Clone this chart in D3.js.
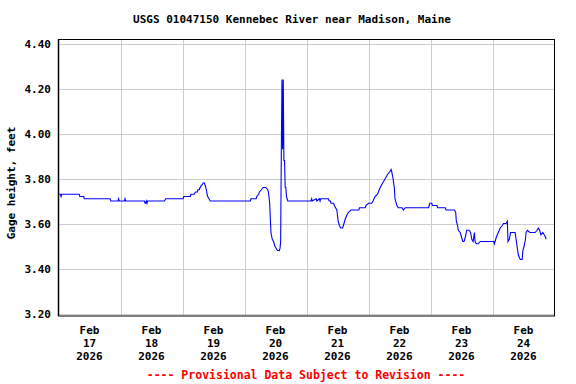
<!DOCTYPE html>
<html>
<head>
<meta charset="utf-8">
<script src="https://cdn.jsdelivr.net/npm/d3@7/dist/d3.min.js"></script>
<style>
  html, body { margin: 0; padding: 0; background: #fff; }
  svg { display: block; }
  text { font-family: "DejaVu Sans Mono", "Liberation Mono", monospace; font-weight: bold; }
</style>
</head>
<body>
<svg id="chart" width="576" height="384"></svg>
<script>
// ---------------- data ----------------
const chartTitle = "USGS 01047150 Kennebec River near Madison, Maine";
const yAxisTitle = "Gage height, feet";
const footerText = "---- Provisional Data Subject to Revision ----";
const yTicks = [3.20, 3.40, 3.60, 3.80, 4.00, 4.20, 4.40];
const dayStart = "2026-02-17 00:00";
const dayEnd = "2026-02-25 00:00";

const times = [
  "2026-02-17 00:15","2026-02-17 00:45","2026-02-17 01:00","2026-02-17 01:15","2026-02-17 08:00","2026-02-17 08:15",
  "2026-02-17 09:45","2026-02-17 10:00","2026-02-17 20:00","2026-02-17 20:15","2026-02-17 23:00","2026-02-17 23:15",
  "2026-02-17 23:30",
  "2026-02-18 01:30","2026-02-18 01:45","2026-02-18 02:00","2026-02-18 09:15","2026-02-18 09:30","2026-02-18 09:45",
  "2026-02-18 10:00","2026-02-18 10:15","2026-02-18 10:30","2026-02-18 17:00","2026-02-18 17:30",
  "2026-02-19 00:15","2026-02-19 00:30","2026-02-19 03:00","2026-02-19 03:15","2026-02-19 04:30","2026-02-19 05:00",
  "2026-02-19 05:45","2026-02-19 06:00","2026-02-19 06:30","2026-02-19 06:45","2026-02-19 07:00","2026-02-19 07:15",
  "2026-02-19 07:30","2026-02-19 08:00","2026-02-19 08:30","2026-02-19 08:45","2026-02-19 09:15","2026-02-19 09:30",
  "2026-02-19 09:45","2026-02-19 10:15","2026-02-19 10:45",
  "2026-02-20 02:15","2026-02-20 02:30","2026-02-20 04:30","2026-02-20 04:45","2026-02-20 05:30","2026-02-20 05:45",
  "2026-02-20 06:30","2026-02-20 07:15","2026-02-20 08:15","2026-02-20 09:00","2026-02-20 09:15","2026-02-20 09:45",
  "2026-02-20 10:00","2026-02-20 10:15","2026-02-20 10:45","2026-02-20 11:15","2026-02-20 11:45","2026-02-20 12:15",
  "2026-02-20 12:45","2026-02-20 13:30","2026-02-20 13:45","2026-02-20 14:00","2026-02-20 14:15","2026-02-20 14:30",
  "2026-02-20 14:45","2026-02-20 15:00","2026-02-20 15:15","2026-02-20 15:30","2026-02-20 15:45","2026-02-20 16:00",
  "2026-02-20 16:15","2026-02-20 16:30","2026-02-20 16:45",
  "2026-02-21 01:45","2026-02-21 02:00","2026-02-21 02:15","2026-02-21 03:45","2026-02-21 04:00","2026-02-21 05:00",
  "2026-02-21 05:15","2026-02-21 05:30","2026-02-21 08:30","2026-02-21 08:45","2026-02-21 09:15","2026-02-21 09:30",
  "2026-02-21 10:30","2026-02-21 10:45","2026-02-21 11:45","2026-02-21 12:15","2026-02-21 12:45","2026-02-21 13:15",
  "2026-02-21 14:00","2026-02-21 14:15","2026-02-21 15:00","2026-02-21 15:45","2026-02-21 16:15","2026-02-21 17:15",
  "2026-02-21 20:15","2026-02-21 20:30","2026-02-21 22:45","2026-02-21 23:00",
  "2026-02-22 00:00","2026-02-22 01:15","2026-02-22 01:45","2026-02-22 02:30","2026-02-22 03:30","2026-02-22 04:30",
  "2026-02-22 05:30","2026-02-22 06:30","2026-02-22 07:30","2026-02-22 08:15","2026-02-22 08:45","2026-02-22 09:00",
  "2026-02-22 09:30","2026-02-22 10:00","2026-02-22 10:15","2026-02-22 11:00","2026-02-22 11:30","2026-02-22 13:00",
  "2026-02-22 13:30","2026-02-22 14:15","2026-02-22 23:15","2026-02-22 23:30","2026-02-22 23:45",
  "2026-02-23 00:30","2026-02-23 00:45","2026-02-23 02:30","2026-02-23 02:45","2026-02-23 05:45","2026-02-23 06:00",
  "2026-02-23 09:15","2026-02-23 09:45","2026-02-23 10:00","2026-02-23 10:30","2026-02-23 10:45","2026-02-23 11:30",
  "2026-02-23 12:15","2026-02-23 12:30","2026-02-23 13:00","2026-02-23 13:30","2026-02-23 14:00","2026-02-23 15:00",
  "2026-02-23 15:30","2026-02-23 16:00","2026-02-23 16:30","2026-02-23 17:00","2026-02-23 17:15","2026-02-23 17:45",
  "2026-02-23 18:30","2026-02-23 19:15",
  "2026-02-24 00:30","2026-02-24 00:45","2026-02-24 01:00","2026-02-24 01:30","2026-02-24 02:15","2026-02-24 03:00",
  "2026-02-24 03:45","2026-02-24 04:15","2026-02-24 05:15","2026-02-24 05:45","2026-02-24 06:00","2026-02-24 06:30",
  "2026-02-24 07:00","2026-02-24 08:45","2026-02-24 09:15","2026-02-24 09:45","2026-02-24 10:00","2026-02-24 10:45",
  "2026-02-24 11:30","2026-02-24 11:45","2026-02-24 12:15","2026-02-24 12:45","2026-02-24 13:00","2026-02-24 13:30",
  "2026-02-24 14:30","2026-02-24 16:30","2026-02-24 17:15","2026-02-24 17:45","2026-02-24 18:15","2026-02-24 18:45",
  "2026-02-24 19:30","2026-02-24 20:00","2026-02-24 20:30","2026-02-24 20:45"
];

const gageHeight = [
  3.73,3.73,3.72,3.73,3.73,3.72,
  3.72,3.71,3.71,3.70,3.70,3.71,
  3.70,
  3.70,3.71,3.70,3.70,3.69,3.69,
  3.70,3.69,3.70,3.70,3.71,
  3.71,3.72,3.72,3.73,3.73,3.74,
  3.74,3.75,3.75,3.76,3.76,3.77,
  3.77,3.78,3.78,3.77,3.75,3.73,
  3.72,3.71,3.70,
  3.70,3.71,3.71,3.72,3.73,3.74,
  3.75,3.76,3.76,3.75,3.74,3.69,
  3.62,3.56,3.53,3.52,3.50,3.49,
  3.48,3.48,3.49,3.52,3.91,4.24,
  3.93,4.24,3.88,3.88,3.76,3.76,
  3.72,3.71,3.70,
  3.70,3.71,3.70,3.71,3.70,3.71,
  3.70,3.71,3.71,3.70,3.70,3.69,
  3.69,3.68,3.66,3.61,3.59,3.58,
  3.58,3.59,3.62,3.64,3.65,3.66,
  3.66,3.67,3.67,3.68,
  3.69,3.69,3.70,3.72,3.73,3.76,
  3.78,3.80,3.82,3.83,3.84,3.83,
  3.80,3.76,3.71,3.68,3.67,3.67,
  3.66,3.67,3.67,3.68,3.69,
  3.69,3.68,3.68,3.67,3.67,3.66,
  3.66,3.65,3.61,3.59,3.57,3.56,
  3.53,3.52,3.52,3.54,3.57,3.57,
  3.56,3.53,3.52,3.56,3.52,3.51,
  3.51,3.52,
  3.52,3.51,3.52,3.54,3.56,3.58,
  3.59,3.60,3.60,3.61,3.52,3.53,
  3.56,3.56,3.52,3.48,3.46,3.44,
  3.44,3.48,3.50,3.53,3.56,3.57,
  3.56,3.56,3.57,3.58,3.57,3.55,
  3.56,3.55,3.54,3.53
];

// ---------------- drawing ----------------
const parse = d3.timeParse("%Y-%m-%d %H:%M");
const data = times.map((t, i) => ({ t: parse(t), v: gageHeight[i] }));

const svg = d3.select("#chart");
svg.append("rect").attr("width", 576).attr("height", 384).attr("fill", "#fff");

const left = 58.5, right = 554.5, frameTop = 39.5, frameBottom = 316;
const x = d3.scaleTime().domain([parse(dayStart), parse(dayEnd)]).range([left, right]);
const y = d3.scaleLinear().domain([3.20, 4.40]).range([313.5, 43.5]);

// grid
const days = d3.timeDay.range(parse(dayStart), parse(dayEnd));
svg.append("g").selectAll("line.h").data(yTicks).join("line")
  .attr("x1", left).attr("x2", right)
  .attr("y1", d => Math.round(y(d)) + 0.5).attr("y2", d => Math.round(y(d)) + 0.5)
  .attr("stroke", "#cccccc").attr("stroke-width", 1);
svg.append("g").selectAll("line.v").data(days.slice(1)).join("line")
  .attr("x1", d => Math.round(x(d)) + 0.5).attr("x2", d => Math.round(x(d)) + 0.5)
  .attr("y1", frameTop).attr("y2", frameBottom)
  .attr("stroke", "#cccccc").attr("stroke-width", 1);

// data line
const line = d3.line().x(d => x(d.t)).y(d => y(d.v));
svg.append("path").datum(data).attr("d", line)
  .attr("fill", "none").attr("stroke", "#0000ff").attr("stroke-width", 1.1);

// frame
svg.append("rect").attr("x", left).attr("y", frameTop)
  .attr("width", right - left).attr("height", frameBottom - frameTop)
  .attr("fill", "none").attr("stroke", "#000").attr("stroke-width", 1);
svg.append("line").attr("x1", left).attr("x2", left).attr("y1", frameTop).attr("y2", frameBottom)
  .attr("stroke", "#000").attr("stroke-width", 1.5);

// y tick labels
svg.append("g").selectAll("text").data(yTicks).join("text")
  .attr("x", 51).attr("y", d => y(d) + 4)
  .attr("text-anchor", "end").attr("font-size", 11).attr("fill", "#000")
  .text(d => d3.format(".2f")(d));

// x tick labels (centered at noon of each day)
const fmtMon = d3.timeFormat("%b"), fmtDay = d3.timeFormat("%d"), fmtYear = d3.timeFormat("%Y");
const xl = svg.append("g").selectAll("g").data(days).join("g")
  .attr("transform", d => `translate(${x(d3.timeHour.offset(d, 12))},0)`);
[[fmtMon, 334], [fmtDay, 347], [fmtYear, 360]].forEach(([f, yy]) => {
  xl.append("text").attr("y", yy).attr("text-anchor", "middle")
    .attr("font-size", 11).attr("fill", "#000").text(d => f(d));
});

// titles
svg.append("text").attr("x", 292).attr("y", 23).attr("text-anchor", "middle")
  .attr("font-size", 11).attr("fill", "#000").text(chartTitle);
svg.append("text").attr("transform", "translate(15,183) rotate(-90)")
  .attr("text-anchor", "middle").attr("font-size", 11).attr("fill", "#000").text(yAxisTitle);
svg.append("text").attr("x", 306).attr("y", 379).attr("text-anchor", "middle")
  .attr("font-size", 11.5).attr("fill", "#ff0000").text(footerText);
</script>
</body>
</html>
